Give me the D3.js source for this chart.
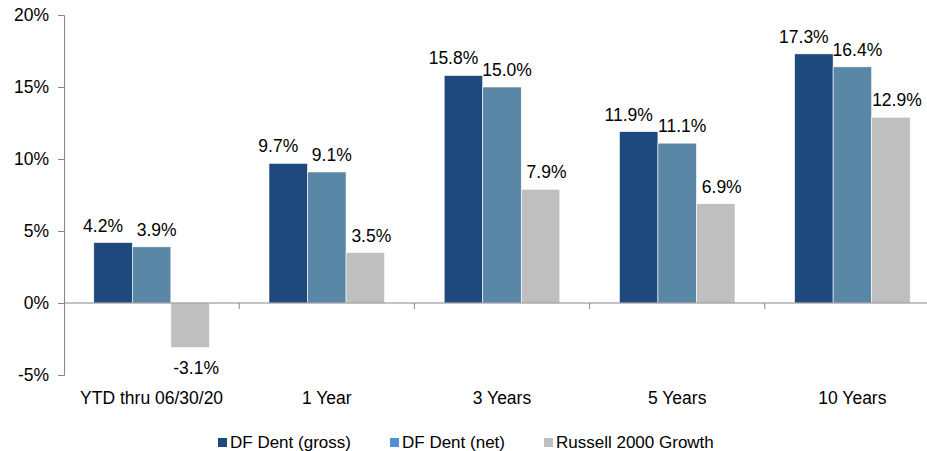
<!DOCTYPE html>
<html lang="en">
    <head>
        <meta charset="utf-8">
        <title>Returns chart</title>
        <script type="text/javascript" src="https://cdn.jsdelivr.net/npm/d3@7"></script>
        <style type="text/css">
           body { margin: 0; background: #fff; }
           text {
               font-family: Arial, "Liberation Sans", sans-serif;
               fill: #000;
           }
        </style>
    </head>
    <body>
        <script type="text/javascript">

              var w = 927;
              var h = 451;

              var categories = ["YTD thru 06/30/20", "1 Year", "3 Years", "5 Years", "10 Years"];
              var seriesNames = ["DF Dent (gross)", "DF Dent (net)", "Russell 2000 Growth"];
              var gross = [4.2, 9.7, 15.8, 11.9, 17.3];
              var net = [3.9, 9.1, 15.0, 11.1, 16.4];
              var russell = [-3.1, 3.5, 7.9, 6.9, 12.9];
              var yTicks = [-5, 0, 5, 10, 15, 20];

              var barColors = ["#1f497d", "#5b87a7", "#bfbfbf"];
              var legendColors = ["#1f497d", "#558ed5", "#bfbfbf"];
              // small sideways nudges for the value labels, per series
              var labelShift = [-10, 5, 6];

              var series = [gross, net, russell];

              var plotLeft = 64, plotTop = 15, plotBottom = 375, plotRight = 940;

              var svg = d3.select("body")
                          .append("svg")
                          .attr("width", w)
                          .attr("height", h);

              var y = d3.scaleLinear().domain([-5, 20]).range([plotBottom, plotTop]);

              var x0 = d3.scaleBand().domain(categories).range([plotLeft, plotRight]).padding(0);
              var groupW = x0.bandwidth() * 0.66;
              var x1 = d3.scaleBand().domain(d3.range(series.length)).range([0, groupW]).padding(0);
              var groupOff = (x0.bandwidth() - groupW) / 2;

              // y axis
              var yAxis = d3.axisLeft(y)
                            .tickValues(yTicks)
                            .tickSize(6)
                            .tickPadding(9)
                            .tickFormat(function(d) { return d + "%"; });

              var gy = svg.append("g")
                          .attr("transform", "translate(" + plotLeft + ",0)")
                          .call(yAxis);
              gy.selectAll("path, line").attr("stroke", "#868686");
              gy.selectAll("text")
                .style("font-size", "17.5px")
                .attr("font-family", "Arial, 'Liberation Sans', sans-serif");

              // bars
              var groups = svg.selectAll("g.cat")
                              .data(categories)
                              .enter()
                              .append("g")
                              .attr("class", "cat")
                              .attr("transform", function(d) {
                                  return "translate(" + (x0(d) + groupOff) + ",0)";
                              });

              groups.selectAll("rect")
                    .data(function(d, i) {
                        return series.map(function(s, k) { return { k: k, v: s[i] }; });
                    })
                    .enter()
                    .append("rect")
                    .attr("x", function(d) { return x1(d.k); })
                    .attr("width", x1.bandwidth())
                    .attr("y", function(d) { return y(Math.max(0, d.v)); })
                    .attr("height", function(d) { return Math.abs(y(d.v) - y(0)); })
                    .attr("fill", function(d) { return barColors[d.k]; })
                    .attr("stroke", "#ffffff")
                    .attr("stroke-width", 0.6);

              // zero line + category ticks
              var gx = svg.append("g")
                          .attr("transform", "translate(0," + y(0) + ")");
              gx.append("line")
                .attr("x1", plotLeft).attr("x2", plotRight)
                .attr("stroke", "#868686");
              gx.selectAll("line.tk")
                .data(categories.slice(1))
                .enter()
                .append("line")
                .attr("class", "tk")
                .attr("x1", function(d) { return x0(d); })
                .attr("x2", function(d) { return x0(d); })
                .attr("y1", 0).attr("y2", 6)
                .attr("stroke", "#868686");

              svg.selectAll("text.cat")
                 .data(categories)
                 .enter()
                 .append("text")
                 .attr("class", "cat")
                 .attr("x", function(d) { return x0(d) + x0.bandwidth() / 2; })
                 .attr("y", plotBottom + 29)
                 .attr("text-anchor", "middle")
                 .style("font-size", "17.5px")
                 .text(function(d) { return d; });

              // value labels, raised only if two really collide
              groups.each(function(cat, i) {
                  var g = d3.select(this);
                  var placed = [];
                  series.forEach(function(s, k) {
                      var v = s[i];
                      var cx = x1(k) + x1.bandwidth() / 2 + labelShift[k];
                      var by = v >= 0 ? y(v) - 11 : y(v) + 26;
                      var t = g.append("text")
                               .attr("x", cx)
                               .attr("y", by)
                               .attr("text-anchor", "middle")
                               .style("font-size", "17.5px")
                               .text(v.toFixed(1) + "%");
                      var bb = t.node().getBBox();
                      placed.forEach(function(p) {
                          var hx = bb.x < p.x + p.width && p.x < bb.x + bb.width;
                          var vy = Math.abs(p.by - by) < 13;
                          if (hx && vy) {
                              by = p.by - 14;
                              t.attr("y", by);
                              bb = t.node().getBBox();
                          }
                      });
                      bb.by = by;
                      placed.push(bb);
                  });
              });

              // legend
              var legendX = [218, 390, 544];
              var leg = svg.selectAll("g.leg")
                           .data(seriesNames)
                           .enter()
                           .append("g")
                           .attr("class", "leg")
                           .attr("transform", function(d, i) {
                               return "translate(" + legendX[i] + ",438)";
                           });
              leg.append("rect")
                 .attr("width", 9).attr("height", 9)
                 .attr("fill", function(d, i) { return legendColors[i]; });
              leg.append("text")
                 .attr("x", 12)
                 .attr("y", 10)
                 .style("font-size", "17px")
                 .text(function(d) { return d; });

        </script>
    </body>
</html>
